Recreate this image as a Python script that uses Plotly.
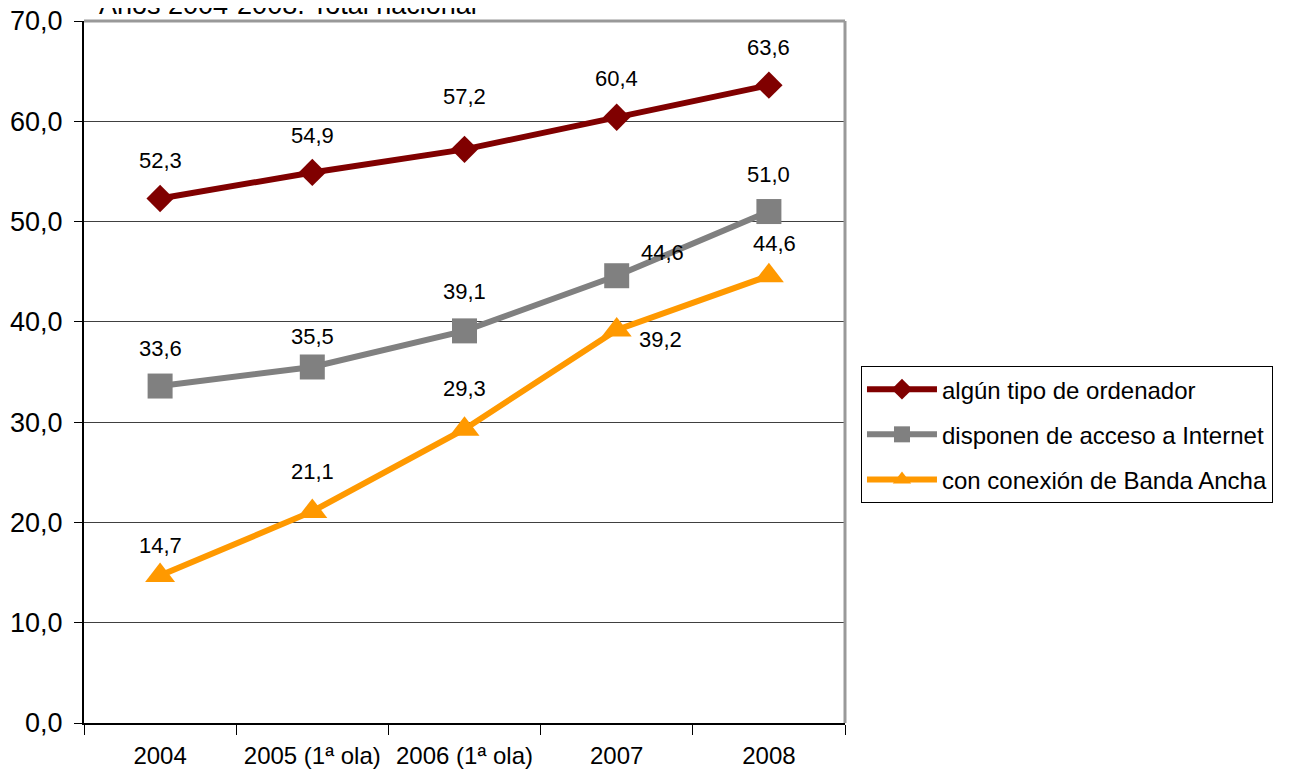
import plotly.graph_objects as go

categories = ["2004", "2005 (1ª ola)", "2006 (1ª ola)", "2007", "2008"]
ordenador = [52.3, 54.9, 57.2, 60.4, 63.6]
internet = [33.6, 35.5, 39.1, 44.6, 51.0]
banda_ancha = [14.7, 21.1, 29.3, 39.2, 44.6]
series_names = ["algún tipo de ordenador", "disponen de acceso a Internet", "con conexión de Banda Ancha"]
title_text = "Años 2004-2008. Total nacional"

# label offsets in pixels (style)
offsets = [
    [(0, 38), (0, 37), (0, 53), (0, 39), (0, 38)],
    [(0, 38), (0, 30), (0, 39), (46, 23), (0, 37)],
    [(0, 30), (0, 40), (0, 41), (44, -10), (6, 32)],
]

colors = ["#800000", "#808080", "#FF9900"]
symbols = ["diamond", "square", "triangle-up"]
msizes = [21, 25, 26]
FONT = "Liberation Sans, Arial, sans-serif"

fig = go.Figure()
all_series = [ordenador, internet, banda_ancha]
for i, (vals, name, c, s, ms) in enumerate(zip(all_series, series_names, colors, symbols, msizes)):
    fig.add_trace(go.Scatter(
        x=categories, y=vals, name=name, mode="lines+markers",
        legendgroup=f"g{i}",
        line=dict(color=c, width=6),
        marker=dict(symbol=s, size=ms, color=c),
    ))

annotations = []
for vals, offs in zip(all_series, offsets):
    for idx, (v, (dx, dy)) in enumerate(zip(vals, offs)):
        annotations.append(dict(
            x=idx, y=v, xref="x", yref="y",
            text=f"{v:.1f}".replace(".", ","),
            showarrow=False, xshift=dx, yshift=dy,
            font=dict(family=FONT, size=22, color="#000000"),
        ))

annotations.append(dict(
    x=0.017, y=0.998, xref="paper", yref="paper", xanchor="left", yanchor="bottom",
    text=title_text, showarrow=False,
    font=dict(family=FONT, size=27, color="#000000"),
))

fig.update_layout(
    width=1293, height=771,
    margin=dict(l=76, r=456, t=13, b=56, autoexpand=False),
    paper_bgcolor="white", plot_bgcolor="white",
    separators=",.",
    font=dict(family=FONT, color="#000000"),
    showlegend=True,
    legend=dict(
        x=1.021, y=0.5085, xanchor="left", yanchor="top",
        bordercolor="#000000", borderwidth=1,
        font=dict(family=FONT, size=24, color="#000000"),
        traceorder="grouped", tracegroupgap=11,
        itemwidth=70,
        bgcolor="white",
    ),
    annotations=annotations,
    shapes=[
        dict(type="line", xref="paper", yref="paper", x0=0, x1=1, y0=1, y1=1,
             line=dict(color="#999999", width=3)),
        dict(type="line", xref="paper", yref="paper", x0=1, x1=1, y0=0, y1=1,
             line=dict(color="#999999", width=3)),
    ],
)

fig.update_xaxes(
    type="category", range=[-0.5, 4.5], automargin=False,
    showline=True, linecolor="#000000", linewidth=2,
    ticks="outside", tickson="boundaries", ticklen=10, tickcolor="#000000",
    ticklabelstandoff=10,
    showgrid=False,
    tickfont=dict(family=FONT, size=24, color="#000000"),
)
fig.update_yaxes(
    range=[0, 70], dtick=10, tickformat=".1f", automargin=False,
    showline=True, linecolor="#000000", linewidth=2,
    ticks="outside", ticklen=8, tickcolor="#000000",
    ticklabelstandoff=6, ticklabeloverflow="allow",
    showgrid=True, gridcolor="#404040", gridwidth=1,
    zeroline=False,
    tickfont=dict(family=FONT, size=27, color="#000000"),
)

fig.write_html("out.html")
